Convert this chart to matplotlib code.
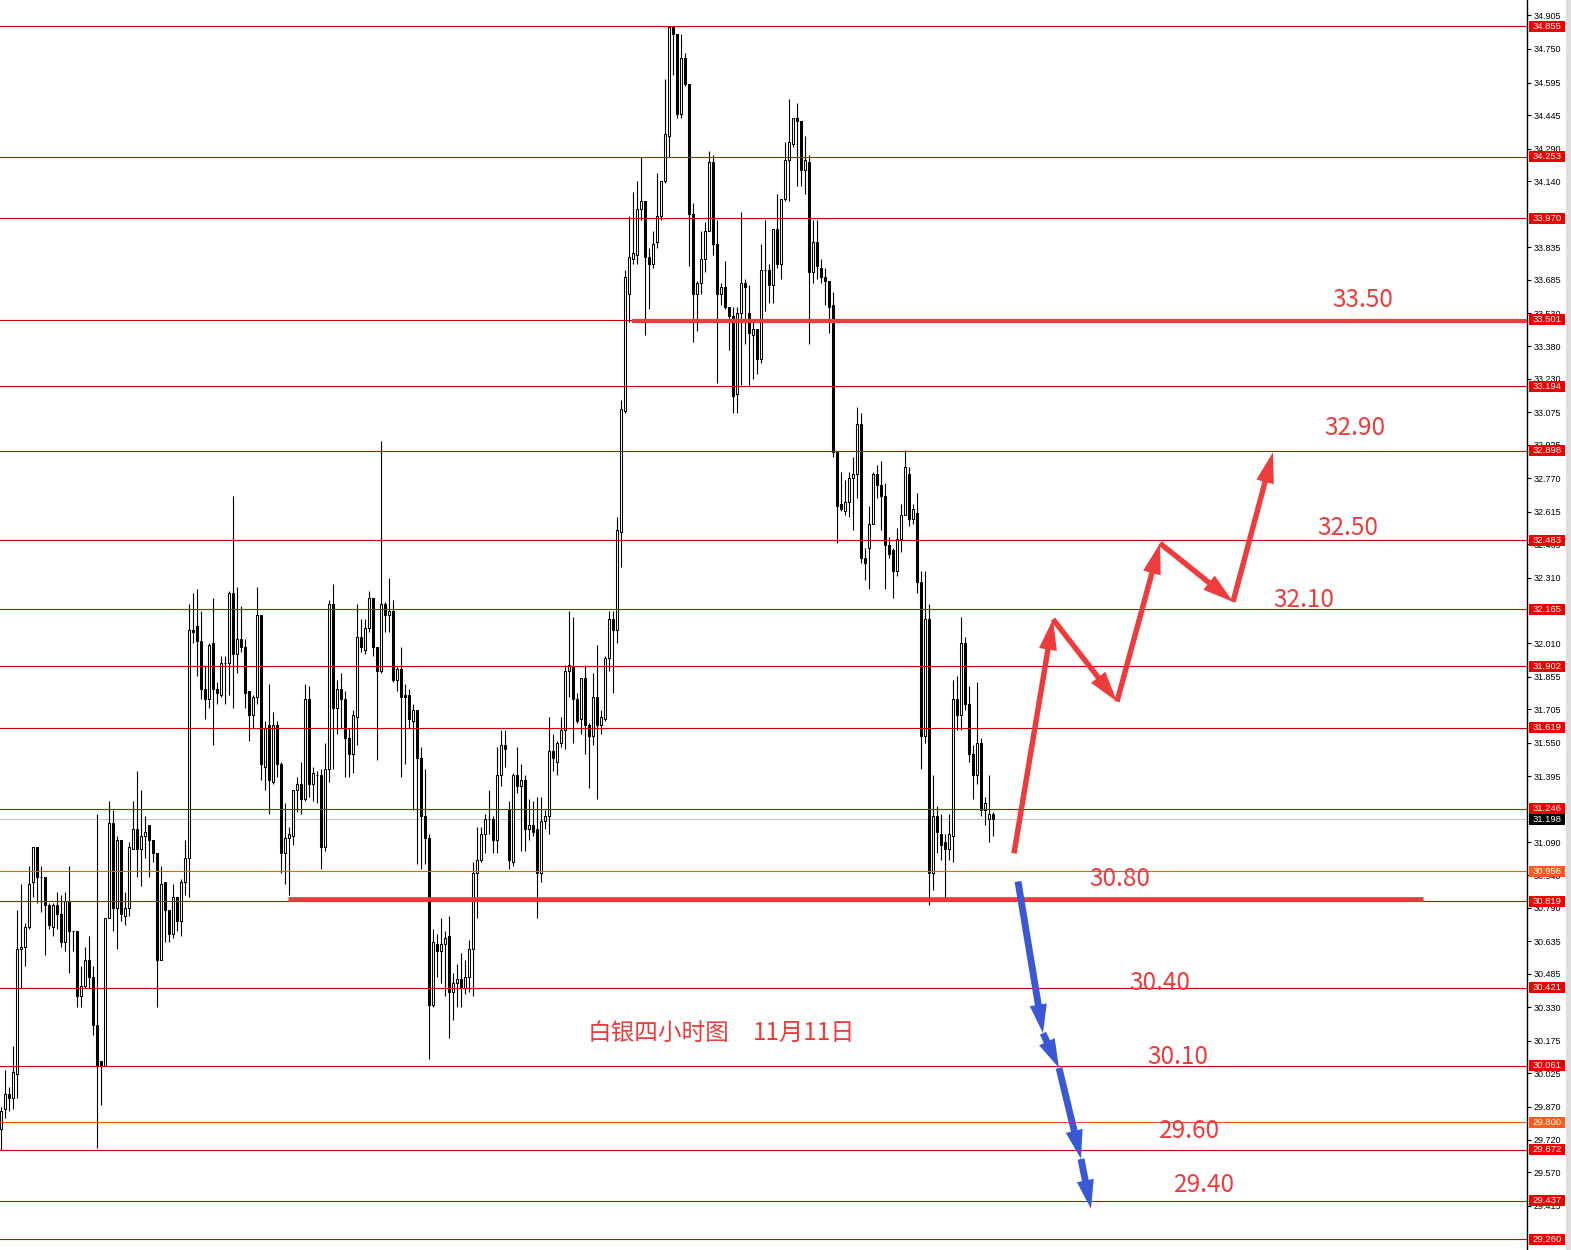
import matplotlib
matplotlib.use("Agg")
import matplotlib.pyplot as plt
import matplotlib.transforms as mtransforms
from matplotlib.patches import FancyArrowPatch, Rectangle

# 4-hour silver candles (open, high, low, close)
opens = [
    29.77, 29.86, 29.93, 29.91, 30.02, 30.60, 30.61, 30.70, 30.91, 31.07,
    30.93, 30.93, 30.80, 30.70, 30.80, 30.76, 30.63, 30.82, 30.68, 30.68,
    30.38, 30.43, 30.55, 30.47, 30.25, 30.08, 30.06, 30.74, 31.18, 30.79,
    31.10, 30.75, 30.79, 31.06, 31.15, 31.06, 31.12, 31.17, 31.10, 31.04,
    30.55, 30.91, 30.78, 30.67, 30.84, 30.73, 30.91, 31.02, 32.07, 32.09,
    32.02, 31.80, 31.75, 32.01, 31.80, 31.77, 31.92, 31.92, 32.24, 31.96,
    32.03, 31.99, 31.79, 31.68, 31.76, 32.14, 31.44, 31.63, 31.37, 31.63,
    31.45, 31.04, 31.11, 31.12, 31.33, 31.36, 31.29, 31.75, 31.36, 31.40,
    31.40, 31.07, 31.43, 32.19, 31.71, 31.80, 31.75, 31.57, 31.50, 31.67,
    32.04, 31.98, 32.08, 32.22, 31.99, 31.88, 32.19, 32.14, 32.16, 31.84,
    31.89, 31.77, 31.77, 31.65, 31.70, 31.48, 31.21, 31.11, 30.34, 30.62,
    30.59, 30.62, 30.66, 30.40, 30.44, 30.46, 30.42, 30.47, 30.60, 30.95,
    31.01, 31.13, 31.20, 31.20, 31.10, 31.40, 31.54, 31.24, 31.00, 31.40,
    31.35, 31.38, 31.15, 31.17, 31.15, 30.95, 31.19, 31.21, 31.51, 31.46,
    31.55, 31.61, 31.88, 31.90, 31.75, 31.66, 31.85, 31.63, 31.58, 31.76,
    31.63, 31.66, 31.94, 32.12, 32.07, 32.52, 33.08, 33.62, 33.78, 33.80,
    34.01, 34.05, 33.79, 33.76, 33.86, 33.98, 34.14, 34.35, 34.85, 34.82,
    34.45, 34.71, 34.59, 33.99, 33.62, 33.67, 33.78, 33.91, 34.23, 33.85,
    33.62, 33.65, 33.56, 33.52, 33.16, 33.53, 33.67, 33.53, 33.43, 33.46,
    33.32, 33.73, 33.73, 33.66, 33.92, 33.76, 34.06, 34.24, 34.31, 34.43,
    34.42, 34.19, 34.23, 33.72, 33.86, 33.74, 33.70, 33.68, 33.57, 32.89,
    32.65, 32.62, 32.66, 32.77, 32.79, 33.02, 32.40, 32.45, 32.56, 32.79,
    32.74, 32.69, 32.46, 32.44, 32.34, 32.49, 32.60, 32.79, 32.58, 32.61,
    32.29, 31.58, 32.12, 30.95, 31.21, 31.13, 31.09, 31.06, 31.12, 31.75,
    31.68, 32.01, 31.73, 31.50, 31.40, 31.55, 31.24, 31.20, 31.22,
]
highs = [
    29.87, 30.04, 29.96, 30.15, 30.78, 30.90, 30.72, 30.98, 31.07, 31.07,
    30.98, 30.93, 30.81, 30.81, 30.86, 30.85, 30.86, 30.98, 30.68, 30.68,
    30.52, 30.61, 30.66, 30.52, 31.22, 30.08, 30.74, 31.28, 31.24, 31.12,
    31.10, 30.86, 31.09, 31.28, 31.42, 31.33, 31.21, 31.17, 31.10, 31.04,
    30.98, 30.91, 30.78, 30.90, 30.84, 30.92, 31.10, 32.19, 32.24, 32.26,
    32.16, 31.91, 32.01, 32.22, 31.83, 31.95, 31.95, 32.25, 32.69, 32.27,
    32.18, 32.03, 31.79, 31.77, 32.27, 32.14, 31.65, 31.82, 31.69, 31.65,
    31.46, 31.27, 31.16, 31.33, 31.39, 31.46, 31.82, 31.81, 31.44, 31.42,
    31.43, 31.55, 32.21, 32.28, 31.84, 31.87, 31.79, 31.62, 31.70, 32.19,
    32.12, 32.12, 32.25, 32.22, 31.99, 32.94, 32.20, 32.31, 32.21, 31.90,
    31.99, 31.82, 31.80, 31.73, 31.70, 31.53, 31.43, 31.13, 30.69, 30.67,
    30.74, 30.68, 30.75, 30.49, 30.53, 30.58, 30.55, 30.64, 31.00, 31.16,
    31.16, 31.22, 31.33, 31.21, 31.53, 31.61, 31.61, 31.28, 31.41, 31.53,
    31.45, 31.40, 31.29, 31.28, 31.30, 31.30, 31.24, 31.67, 31.59, 31.56,
    31.67, 31.91, 32.16, 32.13, 31.78, 31.85, 31.91, 31.64, 31.87, 32.00,
    31.70, 31.95, 32.16, 32.16, 32.59, 33.13, 33.73, 33.98, 34.09, 34.14,
    34.25, 34.05, 33.83, 33.91, 34.18, 34.14, 34.61, 34.85, 34.85, 34.82,
    34.82, 34.73, 34.59, 34.04, 33.68, 33.91, 33.95, 34.28, 34.26, 33.96,
    33.67, 33.77, 33.56, 33.56, 33.56, 34.00, 33.69, 33.66, 33.49, 33.46,
    33.85, 33.96, 33.76, 33.92, 34.08, 34.06, 34.32, 34.52, 34.43, 34.50,
    34.42, 34.35, 34.26, 33.96, 33.96, 33.78, 33.74, 33.68, 33.63, 32.89,
    32.80, 32.76, 32.80, 32.87, 33.10, 33.07, 32.45, 32.64, 32.80, 32.83,
    32.85, 32.75, 32.50, 32.45, 32.54, 32.65, 32.90, 32.82, 32.65, 32.70,
    32.34, 32.34, 32.19, 31.40, 31.26, 31.22, 31.13, 31.22, 31.84, 31.86,
    32.13, 32.04, 31.81, 31.54, 31.83, 31.57, 31.30, 31.40, 31.23,
]
lows = [
    29.67, 29.82, 29.85, 29.86, 29.91, 30.42, 30.52, 30.69, 30.84, 30.81,
    30.77, 30.57, 30.69, 30.66, 30.69, 30.61, 30.59, 30.49, 30.59, 30.33,
    30.33, 30.42, 30.42, 30.20, 29.68, 29.88, 30.06, 30.74, 30.68, 30.60,
    30.73, 30.71, 30.75, 31.06, 30.93, 30.89, 31.02, 30.93, 31.00, 30.33,
    30.55, 30.63, 30.63, 30.65, 30.68, 30.66, 30.85, 30.84, 32.01, 31.86,
    31.75, 31.66, 31.71, 31.54, 31.73, 31.76, 31.73, 31.77, 31.71, 31.87,
    31.97, 31.71, 31.56, 31.62, 31.73, 31.38, 31.33, 31.22, 31.36, 31.39,
    30.95, 30.90, 30.85, 31.08, 31.23, 31.22, 31.28, 31.30, 31.28, 31.27,
    30.97, 31.05, 31.37, 31.43, 31.59, 31.62, 31.39, 31.39, 31.41, 31.54,
    31.97, 31.96, 32.06, 31.95, 31.47, 31.87, 32.06, 32.06, 31.83, 31.79,
    31.39, 31.45, 31.62, 31.24, 30.99, 30.97, 30.99, 30.09, 30.33, 30.47,
    30.44, 30.38, 30.19, 30.27, 30.33, 30.33, 30.39, 30.40, 30.38, 30.74,
    31.00, 31.04, 31.13, 31.04, 31.04, 31.35, 31.44, 30.97, 30.98, 31.32,
    31.05, 31.05, 31.10, 31.12, 30.74, 30.91, 31.15, 31.13, 31.42, 31.40,
    31.53, 31.52, 31.76, 31.55, 31.64, 31.59, 31.50, 31.34, 31.54, 31.29,
    31.59, 31.65, 31.88, 31.78, 32.01, 32.36, 33.07, 33.49, 33.76, 33.76,
    33.96, 33.43, 33.55, 33.74, 33.83, 33.96, 34.13, 34.25, 34.63, 34.43,
    34.43, 34.58, 33.75, 33.40, 33.45, 33.62, 33.72, 33.91, 33.80, 33.21,
    33.57, 33.55, 33.36, 33.07, 33.07, 33.20, 33.39, 33.20, 33.23, 33.25,
    33.30, 33.54, 33.58, 33.58, 33.74, 33.69, 34.05, 34.05, 34.30, 34.12,
    34.12, 34.08, 33.39, 33.67, 33.69, 33.67, 33.57, 33.44, 32.87, 32.47,
    32.62, 32.60, 32.59, 32.53, 32.68, 32.38, 32.30, 32.26, 32.56, 32.68,
    32.53, 32.26, 32.40, 32.22, 32.32, 32.43, 32.60, 32.55, 32.56, 32.24,
    31.43, 31.55, 30.80, 30.87, 31.04, 31.01, 30.83, 31.01, 31.00, 31.61,
    31.61, 31.70, 31.46, 31.29, 31.36, 31.21, 31.17, 31.09, 31.12,
]
closes = [
    29.85, 29.93, 29.91, 30.03, 30.60, 30.61, 30.70, 30.90, 31.07, 30.93,
    30.93, 30.80, 30.71, 30.80, 30.76, 30.63, 30.82, 30.68, 30.68, 30.38,
    30.43, 30.55, 30.47, 30.25, 30.06, 30.06, 30.74, 31.18, 30.79, 31.10,
    30.76, 30.79, 31.07, 31.15, 31.06, 31.12, 31.14, 31.10, 31.04, 30.55,
    30.90, 30.78, 30.67, 30.84, 30.73, 30.91, 31.02, 32.07, 32.06, 32.02,
    31.80, 31.75, 32.00, 31.80, 31.78, 31.92, 31.92, 32.24, 31.96, 32.03,
    31.99, 31.78, 31.68, 31.76, 32.14, 31.45, 31.62, 31.38, 31.63, 31.45,
    31.04, 31.11, 31.13, 31.33, 31.36, 31.29, 31.75, 31.36, 31.41, 31.40,
    31.07, 31.43, 32.19, 31.71, 31.80, 31.75, 31.57, 31.50, 31.68, 32.04,
    31.99, 32.08, 32.22, 31.99, 31.88, 32.19, 32.14, 32.16, 31.84, 31.89,
    31.76, 31.76, 31.66, 31.70, 31.48, 31.21, 31.11, 30.34, 30.63, 30.59,
    30.62, 30.65, 30.40, 30.44, 30.46, 30.42, 30.47, 30.60, 30.95, 31.01,
    31.13, 31.20, 31.20, 31.10, 31.40, 31.54, 31.52, 31.01, 31.40, 31.35,
    31.38, 31.15, 31.17, 31.14, 30.95, 31.19, 31.21, 31.51, 31.48, 31.55,
    31.61, 31.88, 31.91, 31.75, 31.65, 31.85, 31.63, 31.58, 31.76, 31.63,
    31.67, 31.94, 32.12, 32.07, 32.53, 33.09, 33.70, 33.79, 33.81, 34.01,
    34.05, 33.79, 33.76, 33.85, 33.98, 34.14, 34.36, 34.85, 34.82, 34.45,
    34.71, 34.59, 33.99, 33.62, 33.67, 33.78, 33.91, 34.23, 33.85, 33.62,
    33.65, 33.56, 33.52, 33.15, 33.53, 33.67, 33.65, 33.44, 33.46, 33.32,
    33.73, 33.73, 33.66, 33.92, 33.76, 34.06, 34.24, 34.32, 34.43, 34.42,
    34.19, 34.24, 33.72, 33.86, 33.75, 33.70, 33.68, 33.56, 32.89, 32.64,
    32.63, 32.66, 32.77, 32.79, 33.02, 32.40, 32.38, 32.56, 32.79, 32.74,
    32.69, 32.46, 32.42, 32.34, 32.49, 32.60, 32.82, 32.58, 32.63, 32.29,
    31.58, 32.12, 30.95, 31.21, 31.14, 31.08, 31.06, 31.13, 31.75, 31.68,
    32.01, 31.73, 31.50, 31.40, 31.55, 31.24, 31.27, 31.22, 31.20,
]

# Horizontal price levels drawn on the chart (orange ones are separate)
levels = [34.855, 34.253, 33.970, 33.501, 33.194, 32.898, 32.483, 32.165, 31.902,
          31.619, 31.246, 30.819, 30.421, 30.061, 29.672, 29.437, 29.260]
orange_levels = [30.958, 29.800]
current_price = 31.198

# Right axis tick labels (the ones fully under a price box are left out)
tick_values = [34.905, 34.750, 34.595, 34.445, 34.290, 34.140, 33.835, 33.685,
               33.530, 33.380, 33.230, 33.075, 32.925, 32.770, 32.615, 32.465, 32.310,
               32.010, 31.855, 31.705, 31.550, 31.395, 31.090, 30.940,
               30.790, 30.635, 30.485, 30.330, 30.175, 30.025, 29.870, 29.720, 29.570,
               29.415]

# Projected path (bar index, price) and target labels
up_path_x = [253.25, 263.0, 279.0, 289.75, 308.0, 318.0]
up_path_y = [31.04, 32.12, 31.74, 32.47, 32.20, 32.89]
down_path_x = [254.25, 260.5, 264.5, 270.0, 272.5]
down_path_y = [30.91, 30.21, 30.05, 29.63, 29.40]
target_labels = ["33.50", "32.90", "32.50", "32.10", "30.80", "30.40", "30.10", "29.60", "29.40"]
target_x = [340.5, 338.5, 336.75, 325.75, 279.75, 289.75, 294.25, 297.25, 301.0]
target_y = [33.59, 33.00, 32.54, 32.21, 30.92, 30.44, 30.10, 29.76, 29.51]

RED = "#ee3b3b"
LEVEL_RED = "#d20000"
ORANGE = "#ea5b1a"
BLUE = "#3a58d6"

W, H = 1571, 1250
PX_PER_UNIT = 216.8
Y_TOP = 34.976
fig = plt.figure(figsize=(W / 100, H / 100), dpi=100)
fig.patch.set_facecolor("white")
ax = fig.add_axes([0, 0, 1527 / W, 1])
ax.set_facecolor("white")

# Candles
n = len(closes)
xs = list(range(n))
ax.vlines(xs, lows, highs, color="black", lw=0.8, zorder=2)
bottoms = [min(o, c) for o, c in zip(opens, closes)]
heights = [abs(c - o) for o, c in zip(opens, closes)]
fills = ["white" if c >= o else "black" for o, c in zip(opens, closes)]
ax.bar(xs, heights, bottom=bottoms, width=0.72, color=fills,
       edgecolor="black", linewidth=0.75, zorder=3)

# Level lines
for lvl in levels:
    ax.axhline(lvl, color=LEVEL_RED, lw=0.8, zorder=4)
for lvl in orange_levels:
    ax.axhline(lvl, color=ORANGE, lw=0.8, zorder=4)
ax.axhline(current_price, color="#c4c4c4", lw=0.8, zorder=1)

# Thick support / resistance lines
ax.hlines(33.495, 157.75, 381.5, color=RED, lw=3.0, zorder=5)
ax.hlines(30.83, 71.75, 355.5, color=RED, lw=3.4, zorder=5)

# Arrows
red_style = "simple,head_length=1.7,head_width=1.0,tail_width=0.3"
blue_style = "simple,head_length=1.6,head_width=0.95,tail_width=0.38"
for xa, ya, xb, yb in zip(up_path_x[:-1], up_path_y[:-1], up_path_x[1:], up_path_y[1:]):
    ax.add_patch(FancyArrowPatch((xa, ya), (xb, yb), arrowstyle=red_style, mutation_scale=13,
                                 color=RED, lw=0, shrinkA=0, shrinkB=0, zorder=6))
for xa, ya, xb, yb in zip(down_path_x[:-1], down_path_y[:-1], down_path_x[1:], down_path_y[1:]):
    ax.add_patch(FancyArrowPatch((xa, ya), (xb, yb), arrowstyle=blue_style, mutation_scale=13,
                                 color=BLUE, lw=0, shrinkA=0, shrinkB=0, zorder=6))

# Target labels
for lab, tx, ty in zip(target_labels, target_x, target_y):
    ax.text(tx, ty, lab, color=RED, fontsize=17.5, ha="center", va="center",
            family=["Noto Sans CJK SC", "DejaVu Sans"], zorder=7)

ax.text(146.75, 30.21, "白银四小时图", color=RED, fontsize=17, ha="left", va="center",
        family=["Noto Sans CJK SC", "DejaVu Sans"], zorder=7)
ax.text(188.0, 30.21, "11月11日", color=RED, fontsize=17.5, ha="left", va="center",
        family=["Noto Sans CJK SC", "DejaVu Sans"], zorder=7)

# Axes limits and right price scale
ax.set_xlim(-0.25, 381.5)
ax.set_ylim(Y_TOP - H / PX_PER_UNIT, Y_TOP)
for side in ["left", "top", "bottom"]:
    ax.spines[side].set_visible(False)
ax.spines["right"].set_color("black")
ax.spines["right"].set_linewidth(1.0)
ax.set_xticks([])
ax.yaxis.tick_right()
ax.set_yticks(tick_values)
ax.set_yticklabels(["{:.3f}".format(v) for v in tick_values])
ax.tick_params(axis="y", length=3, width=0.8, pad=1.5, labelsize=6.5, colors="black")
for lab in ax.get_yticklabels():
    lab.set_family("Liberation Sans")

# Price boxes on the scale
trans = mtransforms.blended_transform_factory(ax.transAxes, ax.transData)
box_w = 36 / 1527
box_h = 11 / PX_PER_UNIT
box_x0 = 1.0013


def price_box(value, face):
    ax.add_patch(Rectangle((box_x0, value - box_h / 2), box_w, box_h, transform=trans,
                           facecolor=face, edgecolor="none", clip_on=False, zorder=10))
    ax.text(box_x0 + box_w / 2, value, "{:.3f}".format(value), transform=trans,
            color="white", fontsize=6.8, ha="center", va="center", family="Liberation Sans",
            clip_on=False, zorder=11)


for lvl in levels:
    price_box(lvl, "#ee0000")
for lvl in orange_levels:
    price_box(lvl, "#ff5a1a")
price_box(current_price, "black")

# Light grey strip at the far right of the window
fig.patches.append(Rectangle((1566 / W, 0), 5 / W, 1, transform=fig.transFigure,
                             facecolor="#dedede", edgecolor="none"))

fig.savefig("out.png", dpi=100)
